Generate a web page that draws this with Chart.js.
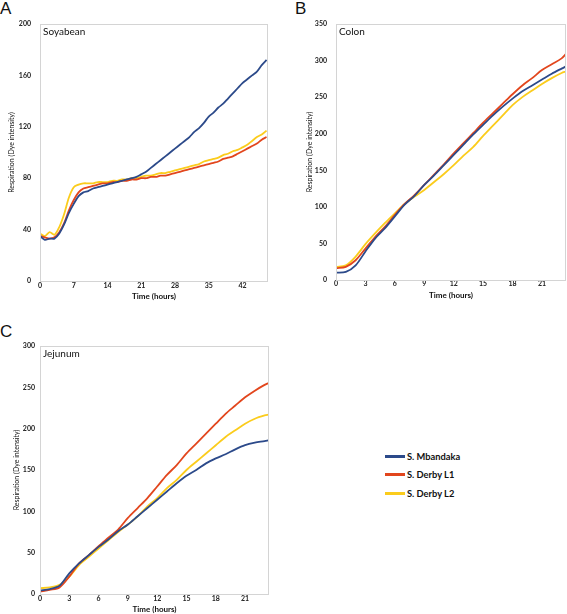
<!DOCTYPE html>
<html>
<head>
<meta charset="utf-8">
<script src="https://cdn.jsdelivr.net/npm/chart.js@4.4.1/dist/chart.umd.min.js"></script>
<style>
  html, body { margin: 0; padding: 0; background: #fff; }
  #wrap { position: relative; width: 567px; height: 614px; overflow: hidden; font-family: Lato, "Open Sans", sans-serif; }
  #wrap canvas { position: absolute; }
  .panel-letter { position: absolute; font-family: "Liberation Sans", Arial, sans-serif; font-size: 17px; line-height: 17px; color: #111; }
  #legend { position: absolute; left: 385px; top: 447px; font-size: 9.3px; font-weight: 700; color: #111; }
  #legend .row { height: 18.5px; display: flex; align-items: center; }
  #legend .swatch { width: 20px; height: 3px; margin-right: 2px; }
</style>
</head>
<body>
<div id="wrap">
  <div class="panel-letter" style="left:0px;top:0px">A</div>
  <div class="panel-letter" style="left:295px;top:0px">B</div>
  <div class="panel-letter" style="left:0px;top:323px">C</div>
  <canvas id="chartA" width="285" height="305" style="left:0px;top:0px"></canvas>
  <canvas id="chartB" width="282" height="305" style="left:285px;top:0px"></canvas>
  <canvas id="chartC" width="285" height="309" style="left:0px;top:305px"></canvas>
  <div id="legend"></div>
</div>
<script>
// --- DATA ---
const seriesNames = ['S. Mbandaka', 'S. Derby L1', 'S. Derby L2'];
const seriesColors = ['#2c4a8a', '#e2461d', '#fbcc1c'];

// A: Soyabean
const aHours = [0,1,2,3,4,5,6,7,8,9,10,11,12,13,14,15,16,17,18,19,20,21,22,23,24,25,26,27,28,29,30,31,32,33,34,35,36,37,38,39,40,41,42,43,44,45,46,47];
const aMbandaka = [35,32,33,33,37,44,53,60,66,69,70,72,73,74,75,76,77,78,79,80,81,83,85,88,91,94,97,100,103,106,109,112,116,119,123,128,131,135,138,142,146,150,154,157,160,163,168,172];
const aDerbyL1 = [35,34,33,34,38,45,55,63,69,72,73,74,75,76,76,77,77,78,78,79,79,80,80,81,81,82,82,83,84,85,86,87,88,89,90,91,92,93,95,96,97,99,101,103,105,107,110,112];
const aDerbyL2 = [37,35,38,36,42,52,65,73,75,76,76,76,77,77,77,78,78,79,79,80,80,81,82,82,83,84,84,85,86,87,88,89,90,91,93,94,95,96,98,99,101,102,104,106,109,112,114,117];
const aXTicks = [0,7,14,21,28,35,42];
const aYTicks = [0,40,80,120,160,200];

// B: Colon
const bHours = [0,1,2,3,4,5,6,7,8,9,10,11,12,13,14,15,16,17,18,19,20,21,22,23,23.45];
const bMbandaka = [10,11,20,39,57,71,87,103,115,130,143,157,171,185,199,212,225,237,248,258,266,274,282,289,292];
const bDerbyL1 = [16,18,27,43,59,73,89,104,116,130,144,158,173,187,201,215,228,241,254,266,276,287,295,303,309];
const bDerbyL2 = [18,20,32,49,64,78,91,104,114,123,134,145,157,170,182,197,211,225,239,250,259,268,276,283,285];
const bXTicks = [0,3,6,9,12,15,18,21];
const bYTicks = [0,50,100,150,200,250,300,350];

// C: Jejunum
const cHours = [0,1,2,3,4,5,6,7,8,9,10,11,12,13,14,15,16,17,18,19,20,21,22,23,23.4];
const cMbandaka = [4,6,10,25,37,47,57,66,76,84,94,104,114,124,134,143,150,158,164,169,175,180,183,185,186];
const cDerbyL1 = [3,5,8,21,37,47,58,68,78,92,104,116,130,144,156,170,182,194,206,218,228,238,246,253,255];
const cDerbyL2 = [7,8,11,21,35,45,55,65,75,84,94,106,116,128,138,150,160,170,180,190,198,206,212,216,217];
const cXTicks = [0,3,6,9,12,15,18,21];
const cYTicks = [0,50,100,150,200,250,300];

// --- PLUGIN: frame + panel name ---
const framePlugin = {
  id: 'frame',
  afterDraw(chart, args, opts) {
    const { ctx, chartArea: ca } = chart;
    ctx.save();
    ctx.strokeStyle = '#d4d4d4';
    ctx.lineWidth = 1;
    ctx.strokeRect(Math.round(ca.left) + 0.5, Math.round(ca.top) + 0.5, Math.round(ca.right - ca.left) - 1, Math.round(ca.bottom - ca.top));
    ctx.fillStyle = '#111';
    ctx.font = '10px Lato, "Open Sans", sans-serif';
    ctx.textBaseline = 'top';
    ctx.fillText(opts.text, ca.left + 3, ca.top + 3);
    ctx.restore();
  }
};

function makePanel(id, p) {
  const datasets = p.series.map((vals, i) => ({
    label: seriesNames[i],
    data: vals.map((v, k) => ({ x: p.hours[k], y: v })),
    borderColor: seriesColors[i],
    borderWidth: 1.8,
    pointRadius: 0,
    tension: 0.3,
    fill: false
  }));
  return new Chart(document.getElementById(id), {
    type: 'line',
    data: { datasets },
    plugins: [framePlugin],
    options: {
      responsive: false,
      animation: false,
      layout: { padding: { top: p.top, right: p.right, left: 0, bottom: 0 } },
      plugins: {
        legend: { display: false },
        tooltip: { enabled: false },
        frame: { text: p.name }
      },
      scales: {
        x: {
          type: 'linear', min: 0, max: p.xMax,
          afterBuildTicks: s => { s.ticks = p.xTicks.map(v => ({ value: v })); },
          afterFit: s => { s.height = p.xAxisH; },
          grid: { display: false, drawTicks: false }, border: { display: false },
          ticks: { padding: p.xTickPad, color: '#222', font: { size: 7, weight: 'bold', family: 'Lato' }, maxRotation: 0 },
          title: { display: true, text: 'Time (hours)', color: '#111', font: { size: 8, weight: 'bold', family: 'Lato' }, padding: { top: 0, bottom: p.xTitlePad } }
        },
        y: {
          min: 0, max: p.yMax,
          afterBuildTicks: s => { s.ticks = p.yTicks.map(v => ({ value: v })); },
          afterFit: s => { s.width = p.yAxisW; },
          grid: { display: false, drawTicks: false }, border: { display: false },
          ticks: { padding: p.yTickPad, color: '#222', font: { size: 7, weight: 'bold', family: 'Lato' } },
          title: { display: true, text: 'Respiration (Dye intensity)', color: '#111', font: { size: 7, family: 'Lato' }, padding: { top: p.yTitlePad, bottom: 0 } }
        }
      }
    }
  });
}

makePanel('chartA', {
  name: 'Soyabean', hours: aHours, series: [aMbandaka, aDerbyL1, aDerbyL2],
  xMax: 47.3, yMax: 200, xTicks: aXTicks, yTicks: aYTicks,
  top: 24, right: 17, xAxisH: 24, yAxisW: 40, xTickPad: 1, yTickPad: 9, xTitlePad: 4, yTitlePad: 8
});
makePanel('chartB', {
  name: 'Colon', hours: bHours, series: [bMbandaka, bDerbyL1, bDerbyL2],
  xMax: 23.45, yMax: 350, xTicks: bXTicks, yTicks: bYTicks,
  top: 24, right: 1, xAxisH: 25, yAxisW: 51, xTickPad: 0, yTickPad: 9, xTitlePad: 4.5, yTitlePad: 21
});
makePanel('chartC', {
  name: 'Jejunum', hours: cHours, series: [cMbandaka, cDerbyL1, cDerbyL2],
  xMax: 23.45, yMax: 300, xTicks: cXTicks, yTicks: cYTicks,
  top: 41, right: 16, xAxisH: 20, yAxisW: 40, xTickPad: 1, yTickPad: 5, xTitlePad: 0, yTitlePad: 13
});

// --- LEGEND ---
const legend = document.getElementById('legend');
seriesNames.forEach((name, i) => {
  const row = document.createElement('div');
  row.className = 'row';
  row.innerHTML = `<span class="swatch" style="background:${seriesColors[i]}"></span><span>${name}</span>`;
  legend.appendChild(row);
});
</script>
</body>
</html>
